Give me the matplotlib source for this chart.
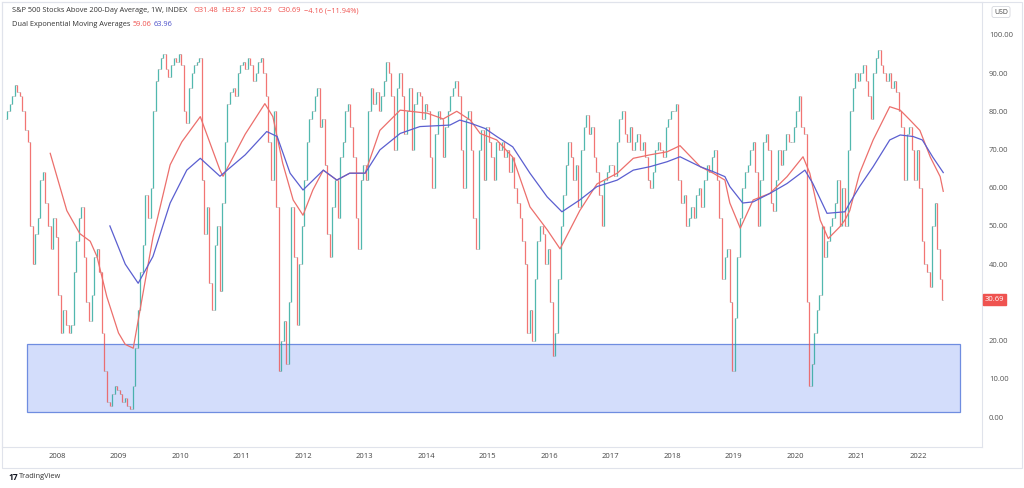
import numpy as np
import matplotlib.pyplot as plt
from matplotlib.patches import Rectangle
import matplotlib.transforms as mtransforms

# S&P 500 stocks above 200-day average
# two bars per month (closes), 2007 starts in March
close_2007 = [80, 82, 84, 87, 85, 84, 80, 75, 72, 50, 40, 48, 52, 62, 64, 56, 50, 44, 52, 47]
close_2008 = [32, 22, 28, 24, 22, 24, 38, 46, 52, 55, 42, 30, 25, 32, 42, 44, 38, 22, 12, 4, 3, 6, 8, 7]
close_2009 = [6, 4, 5, 3, 2, 8, 18, 28, 38, 45, 58, 52, 60, 80, 88, 91, 94, 95, 91, 89, 92, 94, 93, 95]
close_2010 = [92, 80, 77, 86, 90, 92, 93, 94, 62, 48, 55, 35, 28, 45, 50, 33, 56, 72, 82, 85, 86, 84, 90, 92]
close_2011 = [93, 91, 94, 92, 88, 90, 93, 94, 90, 84, 72, 62, 80, 55, 12, 20, 25, 14, 30, 55, 42, 24, 40, 50]
close_2012 = [62, 72, 78, 80, 84, 86, 76, 78, 66, 48, 42, 55, 62, 52, 68, 72, 80, 82, 76, 68, 52, 44, 62, 66]
close_2013 = [62, 80, 86, 82, 85, 80, 84, 88, 93, 90, 84, 70, 86, 90, 84, 74, 80, 86, 70, 82, 85, 84, 78, 82]
close_2014 = [80, 68, 60, 74, 80, 78, 68, 76, 80, 84, 86, 88, 84, 70, 60, 78, 80, 70, 52, 44, 70, 75, 62, 76]
close_2015 = [72, 68, 62, 72, 70, 72, 68, 70, 64, 68, 60, 56, 52, 46, 40, 22, 28, 20, 36, 46, 50, 48, 40, 44]
close_2016 = [30, 16, 22, 36, 50, 58, 66, 72, 68, 62, 66, 55, 70, 76, 79, 74, 76, 68, 64, 58, 50, 62, 64, 66]
close_2017 = [66, 63, 72, 78, 80, 74, 72, 76, 70, 72, 74, 70, 72, 68, 62, 60, 64, 70, 72, 70, 68, 76, 78, 80]
close_2018 = [80, 82, 62, 56, 58, 50, 52, 55, 52, 58, 60, 55, 62, 66, 64, 68, 70, 62, 52, 36, 42, 44, 30, 12]
close_2019 = [26, 42, 52, 60, 64, 66, 70, 72, 64, 50, 62, 72, 74, 70, 56, 54, 62, 70, 66, 70, 74, 72, 72, 76]
close_2020 = [80, 84, 76, 74, 30, 8, 14, 22, 28, 32, 50, 42, 46, 50, 52, 56, 62, 50, 60, 50, 70, 80, 86, 90]
close_2021 = [88, 90, 92, 88, 84, 78, 90, 94, 96, 92, 90, 88, 90, 86, 88, 85, 80, 76, 62, 74, 76, 70, 62, 70]
close_2022 = [60, 46, 40, 38, 34, 50, 56, 44, 36, 30.69]
first_open = 78

# dual EMA lines (fast red, slow blue), decimal year -> value
ema_fast_t = [2007.89, 2008.16, 2008.37, 2008.54, 2008.65, 2008.81, 2009.0, 2009.11, 2009.24,
              2009.56, 2009.84, 2010.03, 2010.33, 2010.65, 2010.70, 2011.06, 2011.38, 2011.51,
              2011.67, 2011.84, 2012.0, 2012.16, 2012.33, 2012.55, 2012.76, 2013.01, 2013.25,
              2013.58, 2014.02, 2014.28, 2014.50, 2014.72, 2014.88, 2015.15, 2015.41, 2015.69,
              2015.97, 2016.18, 2016.50, 2016.78, 2017.11, 2017.37, 2017.64, 2017.92, 2018.13,
              2018.46, 2018.67, 2018.86, 2018.94, 2019.11, 2019.32, 2019.59, 2019.87, 2020.13,
              2020.24, 2020.41, 2020.54, 2020.73, 2020.81, 2020.89, 2021.05, 2021.27, 2021.54,
              2021.71, 2021.87, 2022.03, 2022.20, 2022.36, 2022.41]
ema_fast = [69, 54, 48, 46, 42, 31.5, 22, 19, 18,
            47, 66, 72, 78.6, 64.6, 63, 74, 82, 78.6,
            66.4, 56.8, 52.8, 59.4, 64.6, 62, 63.8, 63.8, 75,
            80.3, 79.5, 78, 80, 77.7, 74.2, 72.5, 68, 55,
            49, 44, 54, 61, 63.8, 67.7, 68.6, 69.4, 71,
            65.5, 63.8, 62, 56, 49.4, 56.8, 58.5, 62.9, 68.1,
            63.8, 51.5, 46.7, 49.8, 51.5, 54, 63.8, 72.5, 81.2,
            80.3, 77.7, 75, 68, 62.9, 59.06]
ema_slow_t = [2008.86, 2009.11, 2009.32, 2009.56, 2009.84, 2010.11, 2010.33, 2010.65, 2011.06,
              2011.41, 2011.58, 2011.79, 2012.0, 2012.33, 2012.55, 2012.76, 2013.01, 2013.25,
              2013.58, 2013.90, 2014.39, 2014.55, 2014.72, 2014.96, 2015.15, 2015.41, 2015.69,
              2015.97, 2016.21, 2016.50, 2016.78, 2017.11, 2017.37, 2017.64, 2017.92, 2018.13,
              2018.46, 2018.67, 2018.86, 2018.94, 2019.15, 2019.32, 2019.59, 2019.87, 2020.16,
              2020.29, 2020.52, 2020.81, 2020.89, 2021.05, 2021.27, 2021.54, 2021.71, 2021.92,
              2022.07, 2022.24, 2022.41]
ema_slow = [50, 40, 35, 42, 56, 64.6, 67.7, 63, 68.6,
            74.7, 73.4, 63.8, 59.4, 64.6, 62, 63.8, 63.8, 69.9,
            74.2, 76, 76.4, 77.7, 76.9, 75.5, 73.4, 70.7, 63.8,
            57.6, 53.7, 56.8, 60.3, 62, 64.6, 65.5, 66.8, 68.1,
            65.5, 64.2, 62.9, 60.3, 56, 56.3, 58.5, 61.1, 64.6,
            61.1, 53.3, 53.7, 56, 60.3, 65.5, 72.5, 73.8, 73.4,
            72.5, 68, 63.96]

year_labels = [str(y) for y in range(2008, 2023)]
price_ticks = [0, 10, 20, 30, 40, 50, 60, 70, 80, 90, 100]
zone_low, zone_high = 1.3, 19.2
zone_start, zone_end = 2007.51, 2022.68

# build bar times / open / close
closes_by_year = [(2007, 4, close_2007), (2008, 0, close_2008), (2009, 0, close_2009),
                  (2010, 0, close_2010), (2011, 0, close_2011), (2012, 0, close_2012),
                  (2013, 0, close_2013), (2014, 0, close_2014), (2015, 0, close_2015),
                  (2016, 0, close_2016), (2017, 0, close_2017), (2018, 0, close_2018),
                  (2019, 0, close_2019), (2020, 0, close_2020), (2021, 0, close_2021),
                  (2022, 0, close_2022)]
t, c = [], []
for year, first, vals in closes_by_year:
    for k, v in enumerate(vals):
        t.append(year + (first + k + 0.5) / 24)
        c.append(v)
t = np.array(t)
c = np.array(c, dtype=float)
o = np.concatenate([[first_open], c[:-1]])
hi = np.maximum(o, c)
lo = np.minimum(o, c)
up = c >= o

UP = '#26a69a'
DN = '#ef5350'

fig = plt.figure(figsize=(10.24, 4.88), dpi=100)
plt.rcParams['font.family'] = ['Open Sans', 'DejaVu Sans']
ax = fig.add_axes([2 / 1024, 1 - 447 / 488, 980 / 1024, 445 / 488])
ax.set_xlim(2007.106, 2023.04)
ax.set_ylim(-7.85, 108.6)

ax.add_patch(Rectangle((zone_start, zone_low), zone_end - zone_start, zone_high - zone_low,
                       facecolor='#d3ddfb', edgecolor='#6f8de0', lw=0.9, zorder=1))

w = 0.014
for mask, col in [(up, UP), (~up, DN)]:
    ax.vlines(t[mask], lo[mask], hi[mask], color=col, lw=0.9, alpha=0.8, zorder=3)
    ax.hlines(o[mask], t[mask] - w, t[mask], color='#9a9a9a', lw=0.7, alpha=0.8, zorder=3)
    ax.hlines(c[mask], t[mask], t[mask] + w, color='#9a9a9a', lw=0.7, alpha=0.8, zorder=3)

ax.plot(ema_fast_t, ema_fast, color='#ec6f6c', lw=0.9, zorder=4)
ax.plot(ema_slow_t, ema_slow, color='#5b5fd0', lw=0.9, zorder=4)

ax.set_xticks(range(2008, 2023))
ax.set_xticklabels(year_labels)
ax.yaxis.tick_right()
ax.set_yticks(price_ticks)
# the 30 level is covered by the last-price tag
ax.set_yticklabels(['' if v == 30 else '%.2f' % v for v in price_ticks])
ax.tick_params(axis='x', length=0, pad=4, labelsize=5.5, labelcolor='#444')
ax.tick_params(axis='y', length=0, pad=5, labelsize=5.5, labelcolor='#555')
for s in ax.spines.values():
    s.set_color('#e0e3eb')
    s.set_linewidth(0.8)

# last price label
trans = mtransforms.blended_transform_factory(ax.transAxes, ax.transData)
ax.text(1.003, c[-1], '%.2f' % c[-1], transform=trans, fontsize=5.5, color='white',
        va='center', ha='left',
        bbox=dict(boxstyle='square,pad=0.25', facecolor=DN, edgecolor=DN))

# outer frame around chart + time axis
fig.add_artist(Rectangle((2 / 1024, 1 - 468 / 488), 1020 / 1024, 466 / 488,
                         transform=fig.transFigure, fill=False, edgecolor='#e0e3eb', lw=0.8))

# header
def px(x, y):
    return x / 1024, 1 - y / 488

fig.text(*px(12, 11), 'S&P 500 Stocks Above 200-Day Average, 1W, INDEX', fontsize=5.3,
         color='#333', va='center')
for x, s in [(193, 'O31.48'), (221, 'H32.87'), (249, 'L30.29'), (277, 'C30.69'),
             (304, '\u22124.16 (\u221211.94%)')]:
    fig.text(*px(x, 11), s, fontsize=5.3, color=DN, va='center')
fig.text(*px(12, 24), 'Dual Exponential Moving Averages', fontsize=5.3, color='#333', va='center')
fig.text(*px(133, 24), '59.06', fontsize=5.3, color=DN, va='center')
fig.text(*px(154, 24), '63.96', fontsize=5.3, color='#4a4fc8', va='center')

fig.text(*px(1001, 12), 'USD', fontsize=5, color='#444', va='center', ha='center',
         bbox=dict(boxstyle='round,pad=0.3', facecolor='white', edgecolor='#d6d8de', lw=0.6))

fig.text(*px(8, 477), '17', fontsize=6, fontweight='bold', color='#131722', va='center')
fig.text(*px(19, 477), 'TradingView', fontsize=5.3, color='#333', va='center')

fig.savefig('out.png', dpi=100, facecolor='white')
